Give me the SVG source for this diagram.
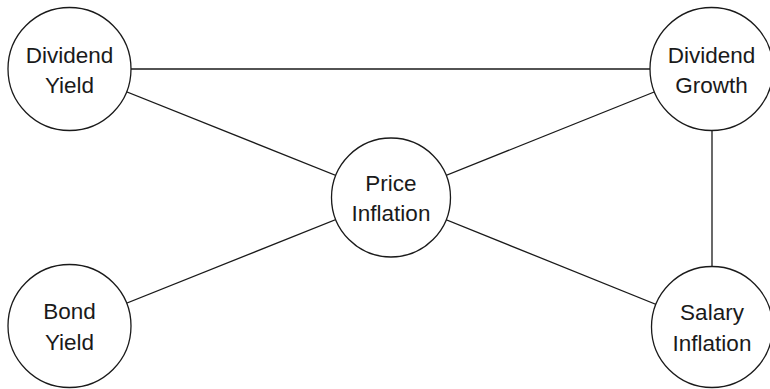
<svg xmlns="http://www.w3.org/2000/svg" width="770" height="389" viewBox="0 0 770 389">
<style>
.n{fill:#fff;stroke:#1a1a1a;stroke-width:1.3}
.e{stroke:#1a1a1a;stroke-width:1.3;fill:none}
text{font-family:"Liberation Sans",Arial,sans-serif;font-size:22.5px;fill:#1a1a1a;text-anchor:middle}
</style>
<rect width="770" height="389" fill="#fff"/>
<g id="connectors">
<line class="e" x1="69.5" y1="69" x2="711.5" y2="69"/>
<line class="e" x1="69.5" y1="69" x2="391" y2="197.5"/>
<line class="e" x1="711.5" y1="69" x2="391" y2="197.5"/>
<line class="e" x1="69.5" y1="326" x2="391" y2="197.5"/>
<line class="e" x1="712" y1="327" x2="391" y2="197.5"/>
<line class="e" x1="712" y1="69" x2="712" y2="327"/>
</g>
<g id="dividend-yield"><circle class="n" cx="69.5" cy="69" r="61.5"/><text x="69.5" y="63">Dividend</text><text x="69.5" y="93">Yield</text></g>
<g id="dividend-growth"><circle class="n" cx="711.5" cy="69" r="61.5"/><text x="711.5" y="63">Dividend</text><text x="711.5" y="93">Growth</text></g>
<g id="price-inflation"><circle class="n" cx="391" cy="197.5" r="59.5"/><text x="391" y="190.5">Price</text><text x="391" y="220.5">Inflation</text></g>
<g id="bond-yield"><circle class="n" cx="69.5" cy="326" r="61.5"/><text x="69.5" y="319">Bond</text><text x="69.5" y="350">Yield</text></g>
<g id="salary-inflation"><circle class="n" cx="712" cy="327" r="60.5"/><text x="712" y="320">Salary</text><text x="712" y="351">Inflation</text></g>
</svg>
